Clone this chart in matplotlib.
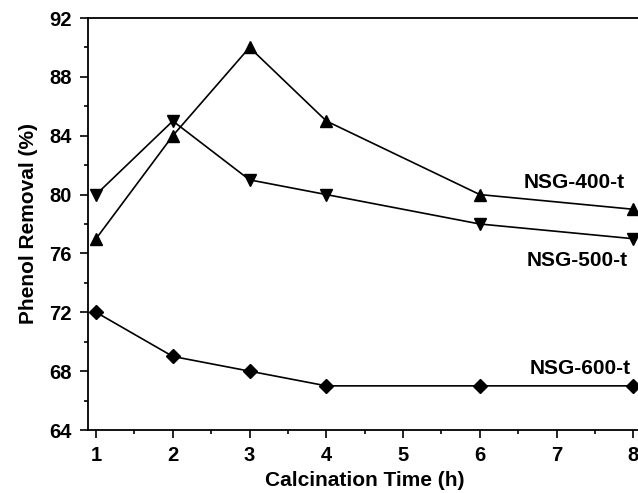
import matplotlib
matplotlib.use("Agg")
import matplotlib.pyplot as plt
from matplotlib.ticker import MultipleLocator

plt.rcParams['font.family'] = ['Liberation Sans', 'DejaVu Sans']
plt.rcParams['font.weight'] = 'bold'

time_h = [1, 2, 3, 4, 6, 8]
nsg400 = [77, 84, 90, 85, 80, 79]
nsg500 = [80, 85, 81, 80, 78, 77]
nsg600 = [72, 69, 68, 67, 67, 67]

fig = plt.figure(figsize=(6.38, 4.93), dpi=100)
ax = fig.add_axes([88/638, 1-430/493, (641-88)/638, (430-18)/493])

ax.plot(time_h, nsg400, '-^', color='black', lw=1.2, ms=9)
ax.plot(time_h, nsg500, '-v', color='black', lw=1.2, ms=9)
ax.plot(time_h, nsg600, '-D', color='black', lw=1.2, ms=7.5)

ax.set_xlim(0.895, 8.1)
ax.set_ylim(64, 92)
ax.xaxis.set_major_locator(MultipleLocator(1))
ax.xaxis.set_minor_locator(MultipleLocator(0.5))
ax.yaxis.set_major_locator(MultipleLocator(4))
ax.yaxis.set_minor_locator(MultipleLocator(2))
ax.tick_params(which='both', direction='out', top=False, right=False, width=1.2)
ax.tick_params(which='major', length=5.5, labelsize=14.5, pad=6)
ax.tick_params(which='minor', length=3)
for s in ax.spines.values():
    s.set_linewidth(1.3)

for lab in ax.get_xticklabels() + ax.get_yticklabels():
    lab.set_fontweight('bold')

ax.set_xlabel('Calcination Time (h)', fontsize=15, fontweight='bold', labelpad=4)
ax.set_ylabel('Phenol Removal (%)', fontsize=15, fontweight='bold', labelpad=8)

ax.text(7.23, 80.85, 'NSG-400-t', fontsize=15, fontweight='bold', ha='center', va='center')
ax.text(7.27, 75.5, 'NSG-500-t', fontsize=15, fontweight='bold', ha='center', va='center')
ax.text(7.31, 68.2, 'NSG-600-t', fontsize=15, fontweight='bold', ha='center', va='center')

fig.savefig('out.png', dpi=100)
